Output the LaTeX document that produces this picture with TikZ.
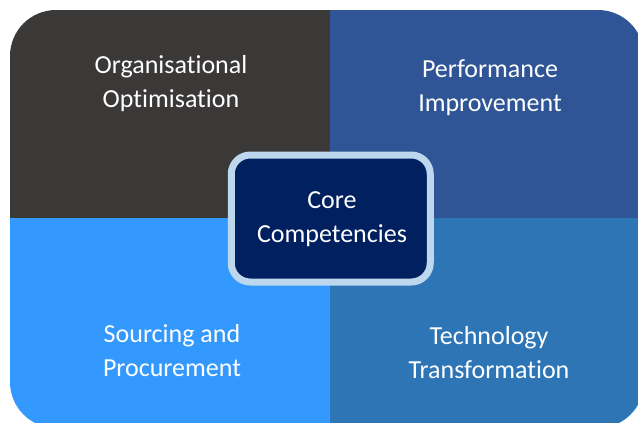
\documentclass[tikz,border=0pt]{standalone}
\usepackage{fontspec}
\setmainfont[Ligatures={NoCommon}]{Carlito}
\definecolor{qdark}{HTML}{3B3838}
\definecolor{qnavy}{HTML}{2F5597}
\definecolor{qsky}{HTML}{3399FF}
\definecolor{qsteel}{HTML}{2E75B6}
\definecolor{coreFill}{HTML}{002060}
\definecolor{coreEdge}{HTML}{BDD7EE}
\tikzset{
  lbl/.style={text=white, align=center, anchor=base, inner sep=0pt,
    font=\fontsize{26}{34}\selectfont},
}
\begin{document}
\begin{tikzpicture}[x=1pt,y=-1pt]
\useasboundingbox (0,0) rectangle (638,423);
\begin{scope}
  \clip[rounded corners=46pt] (10,10) rectangle (644,428);
  \fill[qdark]  (10,10)   rectangle (330,218);
  \fill[qnavy]  (330,10)  rectangle (644,218);
  \fill[qsky]   (10,218)  rectangle (330,428);
  \fill[qsteel] (330,218) rectangle (644,428);
\end{scope}
\node[draw=coreEdge, fill=coreFill, line width=7pt, rounded corners=19pt,
  minimum width=199pt, minimum height=127pt, inner sep=0pt] (core) at (330.75,218.5) {};
\node[lbl] (oo) at (171,107)  {Organisational\\Optimisation};
\node[lbl] (pi) at (490,111)  {Performance\\Improvement};
\node[lbl] (cc) at (332,242) {Core\\Competencies};
\node[lbl] (sp) at (172,376) {Sourcing and\\Procurement};
\node[lbl] (tt) at (489,378) {Technology\\Transformation};
\end{tikzpicture}
\end{document}
